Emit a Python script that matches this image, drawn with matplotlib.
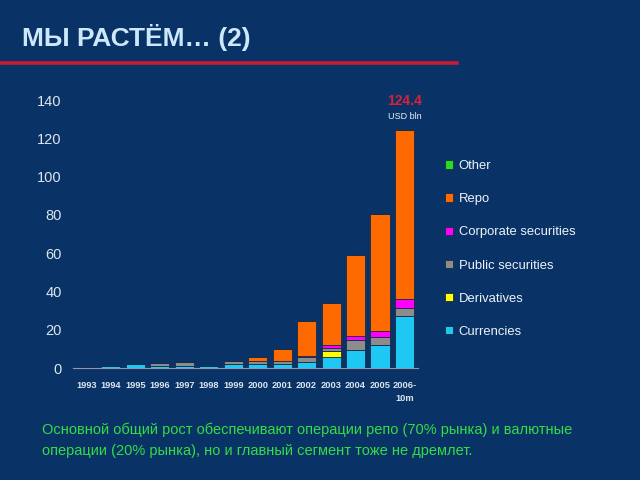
import matplotlib.pyplot as plt
import numpy as np

years = ['1993', '1994', '1995', '1996', '1997', '1998', '1999', '2000',
         '2001', '2002', '2003', '2004', '2005', '2006-\n10m']
# cumulative stack, USD bln
currencies = [0.3, 0.8, 2.2, 1.3, 1.0, 1.2, 2.0, 2.0, 2.0, 3.3, 5.6, 9.4, 11.8, 27.2]
derivatives = [0, 0, 0, 0, 0, 0, 0, 0, 0, 0, 3.3, 0, 0, 0]
public = [0, 0, 0, 1.5, 2.0, 0, 1.5, 1.5, 1.5, 2.7, 1.7, 5.2, 4.5, 4.0]
corporate = [0, 0, 0, 0, 0, 0, 0, 0, 0.3, 0.5, 1.6, 2.1, 3.2, 4.7]
repo = [0, 0, 0, 0, 0, 0, 0.2, 2.0, 6.2, 18.0, 21.6, 42.3, 60.9, 88.5]
other = [0] * 14

series = [('Currencies', currencies, '#1ec8f5'),
          ('Derivatives', derivatives, '#ffff00'),
          ('Public securities', public, '#8c8c8c'),
          ('Corporate securities', corporate, '#ff00ff'),
          ('Repo', repo, '#ff6a00'),
          ('Other', other, '#22dd22')]

bg = '#093367'
plt.rcParams['font.family'] = ['Liberation Sans Narrow', 'Liberation Sans', 'DejaVu Sans']

fig = plt.figure(figsize=(6.4, 4.8), dpi=100, facecolor=bg)
ax = fig.add_axes([0.114, 0.2333, 0.539, 0.5583], facecolor=bg)

x = np.arange(len(years))
bottom = np.zeros(len(years))
handles = []
for name, vals, col in series:
    b = ax.bar(x, vals, 0.78, bottom=bottom, color=col, edgecolor='#1a2a44',
               linewidth=0.6, label=name)
    handles.append(b)
    bottom += np.array(vals)

ax.set_xlim(-0.55, 13.55)
ax.set_ylim(0, 140)
ax.set_yticks(range(0, 141, 20))
ax.tick_params(axis='y', length=0, pad=8, labelsize=10.5, labelcolor='#dde4ec')
ax.set_xticks(x)
ax.set_xticklabels(years, fontsize=6.7, color='#dde4ec', fontweight='bold',
                   linespacing=1.6)
ax.tick_params(axis='x', length=0, pad=9)
for s in ['top', 'right', 'left']:
    ax.spines[s].set_visible(False)
ax.spines['bottom'].set_color('#8a9ab5')
ax.spines['bottom'].set_linewidth(0.8)

ax.text(13, 139.5, '124.4', color='#d8203a', fontsize=10, fontweight='bold',
        ha='center', va='center')
ax.text(13, 131.5, 'USD bln', color='#e8eef5', fontsize=6.5, ha='center', va='center')

leg = fig.legend(handles[::-1], [s[0] for s in series][::-1],
                 loc='upper left', bbox_to_anchor=(0.677, 0.691),
                 frameon=False, fontsize=9.4, labelcolor='#eef2f8',
                 handlelength=0.6, handleheight=0.6, handletextpad=0.45,
                 labelspacing=1.62)

fig.text(0.034, 0.922, 'МЫ РАСТЁМ… (2)', color='#cde8fb', fontsize=19,
         fontweight='bold', va='center')
fig.add_artist(plt.Line2D([0, 0.714], [0.868, 0.868], color='#cc1a33',
                          linewidth=2.6, transform=fig.transFigure))

fig.text(0.066, 0.083,
         'Основной общий рост обеспечивают операции репо (70% рынка) и валютные\n'
         'операции (20% рынка), но и главный сегмент тоже не дремлет.',
         color='#33dd44', fontsize=10.5, va='center', linespacing=1.6)

fig.savefig('out.png', dpi=100, facecolor=bg)
